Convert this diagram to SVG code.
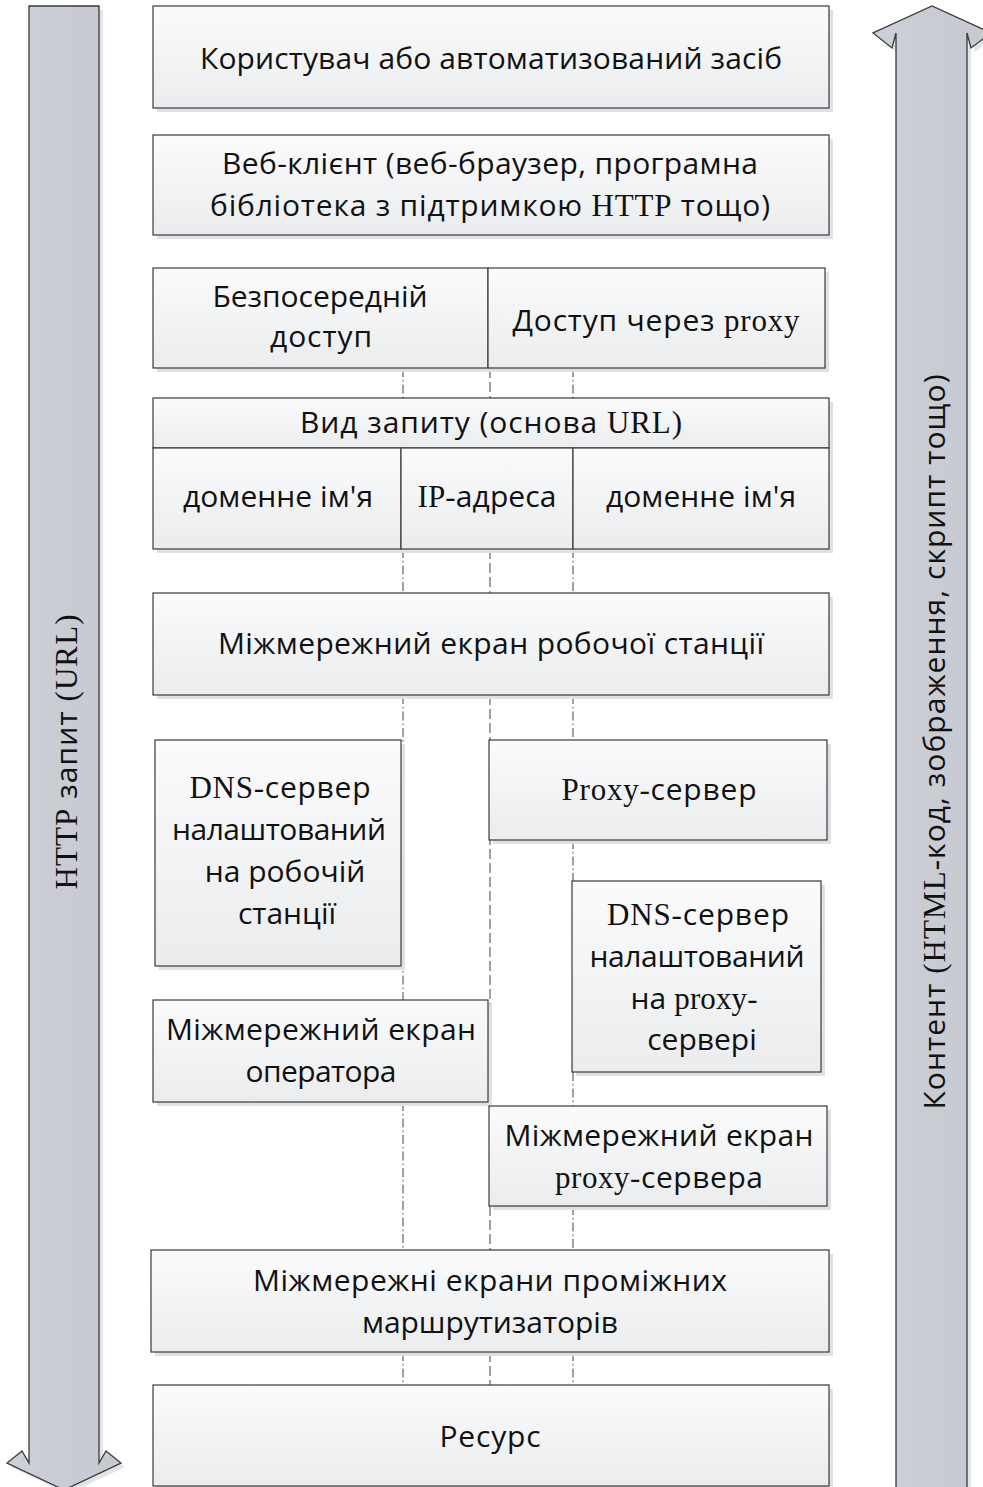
<svg xmlns="http://www.w3.org/2000/svg" width="983" height="1487" viewBox="0 0 983 1487">
  <defs>
    <linearGradient id="boxFill" x1="0" y1="0" x2="0" y2="1">
      <stop offset="0" stop-color="#fbfbfc"/>
      <stop offset="1" stop-color="#eaecee"/>
    </linearGradient>
    <linearGradient id="arrowFill" x1="0" y1="0" x2="1" y2="0">
      <stop offset="0" stop-color="#cdd1d9"/>
      <stop offset="0.5" stop-color="#c9ccd2"/>
      <stop offset="1" stop-color="#c6c9d0"/>
    </linearGradient>
    <style>
      .box { fill: url(#boxFill); stroke: #3a3a3a; stroke-width: 1.2; }
      .shadow { fill: #dfe1e4; }
      .arrow { fill: url(#arrowFill); stroke: #3a3a3a; stroke-width: 1.3; stroke-linejoin: miter; }
      .ashadow { fill: #e2e4e7; }
      text { font-family: "Open Sans", "Noto Sans", sans-serif; font-size: 30px; fill: #111; text-anchor: middle; }
      .lat { font-family: "Liberation Serif", serif; font-size: 31px; }
      .dd { fill: none; stroke: #555; stroke-width: 1.1; stroke-dasharray: 9 3 1.5 3; }
      .da { fill: none; stroke: #555; stroke-width: 1.1; stroke-dasharray: 10 4; }
    </style>
  </defs>

  <rect width="983" height="1487" fill="#ffffff"/>

  <!-- request arrow (down) -->
  <g id="request-arrow">
    <path class="ashadow" d="M33,10 H103 V1467 L110,1455 L125,1467 L68,1494 L11,1467 L26,1455 L33,1467 Z"/>
    <path class="arrow" d="M29,6 H99 V1463 L106,1451 L121,1463 L64,1490 L7,1463 L22,1451 L29,1463 Z"/>
    <text transform="translate(77,752) rotate(-90)" textLength="275"><tspan class="lat">HTTP</tspan> запит <tspan class="lat">(URL)</tspan></text>
  </g>

  <!-- response arrow (up) -->
  <g id="content-arrow">
    <path class="ashadow" d="M900,1494 V37 L896,52 L877,37 L936,10 L995,37 L975,52 L971,37 V1494 Z"/>
    <path class="arrow" d="M896,1492 V33 L892,48 L873,33 L932,6 L991,33 L971,48 L967,33 V1492 Z"/>
    <text transform="translate(945,742) rotate(-90)" textLength="735">Контент <tspan class="lat">(HTML-</tspan>код, зображення, скрипт тощо)</text>
  </g>

  <!-- connectors -->
  <g id="connectors">
    <path class="dd" d="M403,368 V398 M403,549 V593 M403,695 V1000 M403,1102 V1250 M403,1352 V1385"/>
    <path class="da" d="M490,368 V398 M490,549 V593 M490,695 V1106 M490,1206 V1250 M490,1352 V1385"/>
    <path class="dd" d="M573,368 V398 M573,549 V593 M573,695 V740 M573,840 V881 M573,1072 V1106 M573,1206 V1250 M573,1352 V1385"/>
  </g>

  <g id="user">
    <rect class="shadow" x="157" y="10" width="676" height="102"/>
    <rect class="box" x="153" y="6" width="676" height="102"/>
    <text x="491" y="69" textLength="582">Користувач або автоматизований засіб</text>
  </g>

  <g id="web-client">
    <rect class="shadow" x="157" y="139" width="676" height="100"/>
    <rect class="box" x="153" y="135" width="676" height="100"/>
    <text x="490" y="174" textLength="536">Веб-клієнт (веб-браузер, програмна</text>
    <text x="490" y="216" textLength="560">бібліотека з підтримкою <tspan class="lat">HTTP</tspan> тощо)</text>
  </g>

  <g id="direct-access">
    <rect class="shadow" x="157" y="272" width="335" height="100"/>
    <rect class="box" x="153" y="268" width="335" height="100"/>
    <text x="320" y="307" textLength="215">Безпосередній</text>
    <text x="321" y="347" textLength="102">доступ</text>
  </g>

  <g id="proxy-access">
    <rect class="shadow" x="492" y="272" width="337" height="100"/>
    <rect class="box" x="488" y="268" width="337" height="100"/>
    <text x="656" y="331" textLength="287">Доступ через <tspan class="lat">proxy</tspan></text>
  </g>

  <g id="request-kind">
    <rect class="shadow" x="157" y="402" width="676" height="151"/>
    <rect class="box" x="153" y="398" width="676" height="50"/>
    <text x="491" y="433" textLength="382">Вид запиту (основа <tspan class="lat">URL)</tspan></text>
  </g>

  <g id="domain-name-direct">
    <rect class="box" x="153" y="448" width="248" height="101"/>
    <text x="278" y="507" textLength="190">доменне ім'я</text>
  </g>

  <g id="ip-address">
    <rect class="box" x="401" y="448" width="172" height="101"/>
    <text x="487" y="507" textLength="139"><tspan class="lat">IP-</tspan>адреса</text>
  </g>

  <g id="domain-name-proxy">
    <rect class="box" x="573" y="448" width="256" height="101"/>
    <text x="701" y="507" textLength="190">доменне ім'я</text>
  </g>

  <g id="workstation-firewall">
    <rect class="shadow" x="157" y="597" width="676" height="102"/>
    <rect class="box" x="153" y="593" width="676" height="102"/>
    <text x="491" y="654" textLength="546">Міжмережний екран робочої станції</text>
  </g>

  <g id="dns-workstation">
    <rect class="shadow" x="159" y="744" width="246" height="226"/>
    <rect class="box" x="155" y="740" width="246" height="226"/>
    <text x="280" y="798" textLength="181"><tspan class="lat">DNS-</tspan>сервер</text>
    <text x="279" y="840" textLength="214">налаштований</text>
    <text x="285" y="882">на робочій</text>
    <text x="287" y="924">станції</text>
  </g>

  <g id="proxy-server">
    <rect class="shadow" x="493" y="744" width="338" height="100"/>
    <rect class="box" x="489" y="740" width="338" height="100"/>
    <text x="659" y="800" textLength="195"><tspan class="lat">Proxy-</tspan>сервер</text>
  </g>

  <g id="dns-proxy">
    <rect class="shadow" x="576" y="885" width="249" height="191"/>
    <rect class="box" x="572" y="881" width="249" height="191"/>
    <text x="698" y="925" textLength="182"><tspan class="lat">DNS-</tspan>сервер</text>
    <text x="697" y="967" textLength="215">налаштований</text>
    <text x="694" y="1009" textLength="127">на <tspan class="lat">proxy-</tspan></text>
    <text x="702" y="1050">сервері</text>
  </g>

  <g id="operator-firewall">
    <rect class="shadow" x="157" y="1004" width="335" height="102"/>
    <rect class="box" x="153" y="1000" width="335" height="102"/>
    <text x="321" y="1040" textLength="310">Міжмережний екран</text>
    <text x="321" y="1082" textLength="151">оператора</text>
  </g>

  <g id="proxy-firewall">
    <rect class="shadow" x="493" y="1110" width="338" height="100"/>
    <rect class="box" x="489" y="1106" width="338" height="100"/>
    <text x="659" y="1146" textLength="309">Міжмережний екран</text>
    <text x="659" y="1188" textLength="208"><tspan class="lat">proxy-</tspan>сервера</text>
  </g>

  <g id="router-firewalls">
    <rect class="shadow" x="155" y="1254" width="678" height="102"/>
    <rect class="box" x="151" y="1250" width="678" height="102"/>
    <text x="490" y="1291" textLength="474">Міжмережні екрани проміжних</text>
    <text x="490" y="1333" textLength="256">маршрутизаторів</text>
  </g>

  <g id="resource">
    <rect class="shadow" x="157" y="1389" width="676" height="102"/>
    <rect class="box" x="153" y="1385" width="676" height="101"/>
    <text x="490" y="1447" textLength="101">Ресурс</text>
  </g>
</svg>
